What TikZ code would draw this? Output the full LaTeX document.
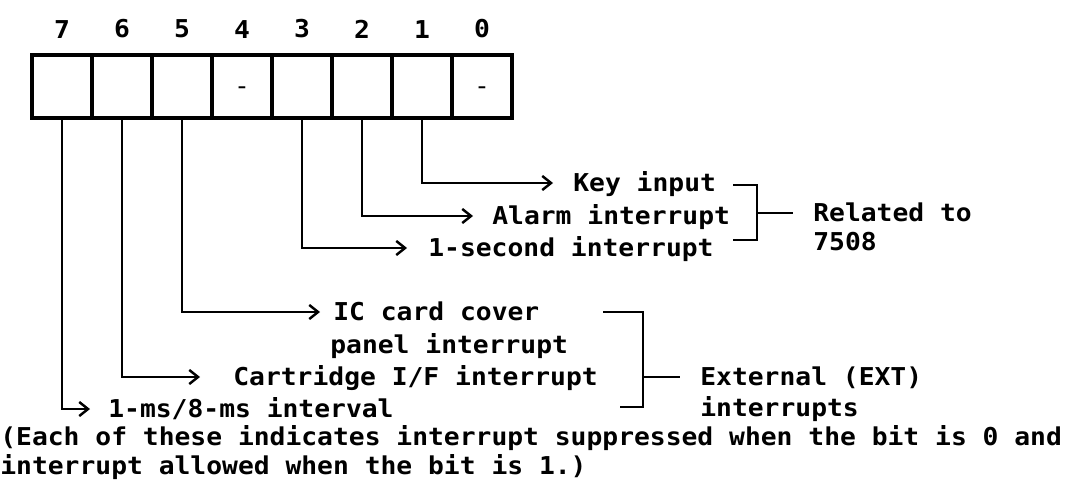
\documentclass[tikz,border=0pt]{standalone}
\usepackage{fontspec}
\newfontfamily\regfont[FakeStretch=1.07]{DejaVu Sans Mono}
\usetikzlibrary{arrows.meta, positioning}

\begin{document}
\begin{tikzpicture}[x=0.02cm, y=-0.02cm,
    font=\regfont\bfseries\fontsize{14}{17}\selectfont,
    cell/.style={draw, line width=1.8pt, minimum width=1.2cm, minimum height=1.26cm, inner sep=0pt,
      text height=0pt, text depth=0pt},
    bitnum/.style={font=\regfont\bfseries\fontsize{14}{17}\selectfont, inner sep=0pt},
    lbl/.style={anchor=west, inner sep=0pt, text height=10.2pt, text depth=0pt},
    feed/.style={line width=1.6pt, -{Straight Barb[length=5pt,width=8pt,line width=1.4pt]}},
    brk/.style={line width=1.6pt}]
  \useasboundingbox (0,0) rectangle (1088,483);

  % ---------- registro ----------
  \foreach \i/\t in {7/,6/,5/,4/-,3/,2/,1/,0/-} {
    \node[cell] (b\i) at ({62+60*(7-\i)},86.5) {\raisebox{-4.5pt}{\mdseries\t}};
    \node[bitnum, above=0.3cm of b\i] (n\i) {\i};
  }

  % ---------- ligados ao 7508 ----------
  \node[lbl] (key)    at (573,183) {Key input};
  \node[lbl] (alarm)  at (492,216) {Alarm interrupt};
  \node[lbl] (onesec) at (428,248) {1-second interrupt};
  \draw[feed] (b1.south) |- ([xshift=-0.4cm]key.west);
  \draw[feed] (b2.south) |- ([xshift=-0.38cm]alarm.west);
  \draw[feed] (b3.south) |- ([xshift=-0.42cm]onesec.west);

  \coordinate (rel) at (757,213);
  \draw[brk] (733,185) -| (757,240) -- (733,240);
  \node[lbl] (related) at (813,213) {Related to};
  \node[lbl] (r7508)   at (813,242) {7508};
  \draw[brk] (rel) -- ([xshift=-0.4cm]related.west);

  % ---------- externas ----------
  \node[lbl] (iccard)   at (333,312) {IC card cover};
  \node[lbl] (panel)    at (330,345) {panel interrupt};
  \node[lbl] (cart)     at (233,377) {Cartridge I/F interrupt};
  \node[lbl] (interval) at (108,409) {1-ms/8-ms interval};
  \draw[feed] (b5.south) |- ([xshift=-0.26cm]iccard.west);
  \draw[feed] (b6.south) |- ([xshift=-0.66cm]cart.west);
  \draw[feed] (b7.south) |- ([xshift=-0.36cm]interval.west);

  \coordinate (extmid) at (643,377);
  \draw[brk] (603,312) -| (643,407) -- (620,407);
  \node[lbl] (ext)  at (700,377) {External (EXT)};
  \node[lbl] (ints) at (700,408) {interrupts};
  \draw[brk] (extmid) -- ([xshift=-0.4cm]ext.west);

  % ---------- nota ----------
  \node[lbl] (note1) at (0,437) {(Each of these indicates interrupt suppressed when the bit is 0 and};
  \node[lbl] (note2) at (0,466) {interrupt allowed when the bit is 1.)};
\end{tikzpicture}
\end{document}
